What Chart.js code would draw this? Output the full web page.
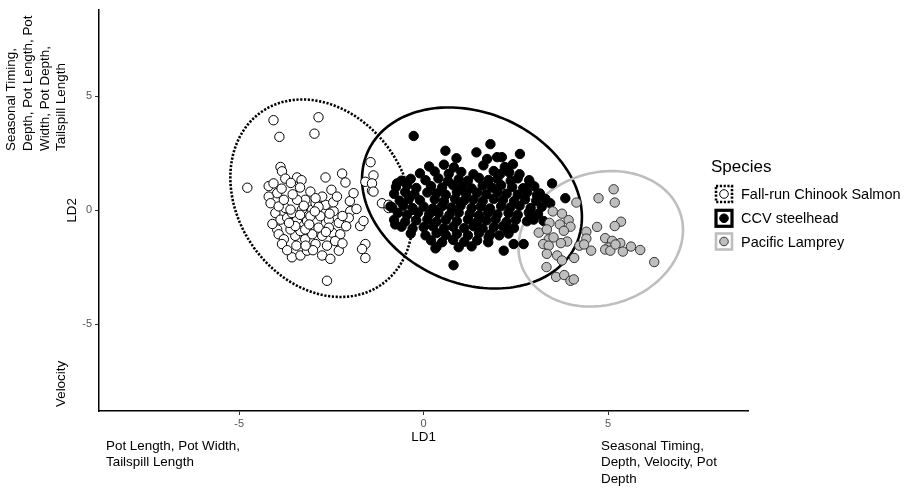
<!DOCTYPE html>
<html><head><meta charset="utf-8">
<script src="https://cdn.jsdelivr.net/npm/chart.js@4.4.0/dist/chart.umd.min.js"></script>
<style>html,body{margin:0;padding:0;background:#fff;}#wrap{width:920px;height:492px;}</style>
</head><body><div id="wrap"><canvas id="c" width="920" height="492"></canvas></div>
<script>
const speciesNames = ['Fall-run Chinook Salmon', 'CCV steelhead', 'Pacific Lamprey'];
const xTickValues = [-5, 0, 5];
const yTickValues = [-5, 0, 5];

const chinook = [
[-4.07,3.95],[-2.85,4.08],[-3.91,3.22],[-2.96,3.36],[-4.78,0.99],[-2.62,-3.09],[-2.66,1.44],[-3.88,1.90],
[-3.84,1.71],[-3.75,1.39],[-3.43,1.44],[-3.31,1.32],[-2.21,1.61],[-2.12,1.22],[-1.44,2.11],[-1.36,1.53],
[-1.58,1.25],[-1.40,0.86],[-1.13,0.31],[-0.95,0.10],[-1.99,-0.04],[-1.82,0.06],[-2.03,-0.33],[-1.72,-0.69],
[-1.63,-0.47],[-1.58,-1.48],[-1.67,-1.70],[-1.58,-2.09],[-4.20,1.06],[-4.07,1.18],[-3.97,0.75],[-4.20,0.60],
[-4.15,0.31],[-4.02,-0.12],[-3.88,-0.41],[-3.97,-0.84],[-3.93,-1.05],[-3.79,-1.27],[-3.84,-1.48],[-3.57,-2.06],
[-3.34,-1.98],[-3.16,-1.77],[-2.75,-1.98],[-2.53,-2.13],[-2.30,-1.77],[-2.62,-1.55],[-2.93,-1.48],[-3.21,-1.27],
[-3.48,-1.12],[-3.61,-0.84],[-3.34,-0.91],[-3.02,-1.05],[-2.75,-1.12],[-2.48,-0.98],[-2.26,-1.05],[-2.30,-0.55],
[-2.57,-0.41],[-2.89,-0.47],[-3.16,-0.47],[-3.43,-0.41],[-3.70,-0.33],[-3.75,0.10],[-3.57,-0.12],[-3.30,0.03],
[-3.02,0.03],[-2.71,-0.04],[-2.44,-0.04],[-2.66,0.24],[-2.93,0.31],[-3.21,0.46],[-3.43,0.46],[-3.07,0.82],
[-2.75,0.60],[-2.93,0.53],[-3.93,0.17],[-3.79,0.46],[-3.61,0.03],[-3.48,-0.69],[-3.21,-0.84],[-2.85,-0.76],
[-2.57,-0.76],[-3.07,-0.26],[-2.80,-0.26],[-1.40,1.18],[-1.36,0.82],[-0.95,0.24],[-3.55,0.70],[-3.25,0.20],
[-2.45,0.35],[-2.20,-0.25],[-2.00,0.40],[-3.65,-0.55],[-3.10,-0.62],[-2.65,-0.95],[-2.40,-1.35],[-3.00,-1.75],
[-3.45,-1.55],[-4.10,-0.60],[-3.85,0.95],[-3.35,1.00],[-2.50,0.90],[-1.90,0.75],[-2.10,-0.70],[-2.85,0.15],
[-3.35,-0.20],[-2.55,-0.15],[-3.60,1.20],[-2.35,0.60],[-2.20,-1.45],[-3.70,-1.75],[-2.95,-0.05],[-3.20,-1.55]
];

const steelhead = [
[-0.27,3.26],[0.59,2.61],[0.89,2.28],[1.43,2.54],[1.81,2.90],[2.61,2.47],[1.99,2.33],[2.12,2.33],[1.72,2.25],
[3.48,1.18],[3.84,0.53],[2.98,-0.41],[3.25,-0.47],[2.17,-1.77],[2.44,-1.48],[2.71,-1.48],[0.81,-2.41],[0.32,-1.67],
[-0.77,-0.62],[-0.72,1.18],[-0.90,0.17],[1.76,-1.19],[2.26,-0.84],[2.89,1.18],[3.07,0.67],[3.43,0.31],
[0.15,1.92],[0.55,2.00],[0.82,1.88],[1.62,1.97],[2.20,1.90],[2.42,2.02],
[-0.10,1.62],[0.30,1.70],[0.68,1.60],[1.02,1.68],[1.35,1.58],[1.90,1.72],[2.08,1.60],[2.32,1.66],[2.60,1.58],
[-0.60,1.30],[-0.35,1.38],[0.05,1.32],[0.40,1.40],[0.66,1.28],[0.95,1.36],[1.20,1.30],[1.50,1.42],[1.76,1.33],
[2.00,1.38],[2.36,1.29],[2.55,1.40],[2.86,1.32],
[-0.75,1.02],[-0.45,1.10],[-0.20,0.98],[0.20,1.06],[0.50,1.00],[0.80,1.10],[1.05,1.03],[1.30,0.96],[1.60,1.08],
[1.85,1.00],[2.10,1.10],[2.40,1.02],[2.70,0.97],[3.00,1.05],
[-0.80,0.72],[-0.50,0.80],[-0.25,0.70],[0.10,0.78],[0.35,0.74],[0.60,0.68],[0.90,0.80],[1.15,0.72],[1.45,0.77],
[1.70,0.70],[2.00,0.80],[2.25,0.73],[2.55,0.68],[2.80,0.78],[3.15,0.74],
[-0.65,0.42],[-0.40,0.50],[-0.10,0.44],[0.30,0.48],[0.55,0.40],[0.85,0.50],[1.10,0.43],[1.35,0.47],[1.60,0.40],
[1.90,0.50],[2.15,0.45],[2.45,0.40],[2.75,0.48],[3.05,0.42],[3.30,0.50],
[-0.85,0.12],[-0.55,0.20],[-0.30,0.10],[0.00,0.16],[0.25,0.08],[0.50,0.18],[0.75,0.12],[1.00,0.20],[1.30,0.10],
[1.55,0.16],[1.80,0.08],[2.10,0.18],[2.35,0.12],[2.60,0.20],[2.90,0.10],[3.20,0.15],
[-0.70,-0.12],[-0.45,-0.20],[-0.15,-0.10],[0.15,-0.18],[0.40,-0.12],[0.70,-0.20],[0.95,-0.10],[1.25,-0.16],
[1.50,-0.22],[1.75,-0.10],[2.00,-0.18],[2.30,-0.12],[2.55,-0.20],[2.85,-0.10],[3.10,-0.16],
[-0.80,-0.42],[-0.50,-0.50],[-0.20,-0.44],[0.10,-0.40],[0.35,-0.50],[0.60,-0.42],[0.90,-0.48],[1.20,-0.40],
[1.45,-0.50],[1.70,-0.44],[1.95,-0.40],[2.25,-0.50],[2.50,-0.42],[2.80,-0.48],
[-0.60,-0.72],[-0.30,-0.80],[0.00,-0.74],[0.25,-0.70],[0.55,-0.80],[0.80,-0.72],[1.10,-0.78],[1.35,-0.70],
[1.60,-0.80],[1.90,-0.74],[2.15,-0.70],[2.45,-0.78],
[-0.35,-1.02],[0.05,-1.10],[0.35,-1.00],[0.60,-1.08],[0.90,-1.04],[1.20,-1.10],[1.50,-1.00],[1.80,-1.06],
[2.05,-1.10],[2.30,-1.02],
[0.20,-1.32],[0.50,-1.40],[0.80,-1.30],[1.10,-1.38],[1.45,-1.32],[1.75,-1.40],
[0.35,-1.60],[0.95,-1.62],[1.30,-1.58]
];

const lamprey = [
[5.15,0.92],[4.74,0.53],[5.18,0.34],[4.14,0.34],[3.75,-0.15],[5.35,-0.50],[5.18,-0.69],[4.70,-0.73],
[3.69,-0.62],[3.93,-0.43],[3.98,-0.72],[3.41,-0.55],[3.12,-0.98],[3.34,-0.84],[4.41,-0.94],[4.41,-1.24],
[4.92,-1.22],[5.11,-1.34],[5.33,-1.44],[5.62,-1.59],[5.87,-1.74],[6.25,-2.27],[5.40,-1.81],[5.01,-1.63],
[4.92,-1.72],[4.54,-1.77],[4.22,-1.55],[3.89,-1.37],[3.72,-1.44],[3.39,-1.27],[3.24,-1.48],[3.39,-1.55],
[3.34,-1.91],[3.62,-1.98],[3.75,-2.20],[4.08,-2.09],[3.33,-2.49],[3.59,-2.92],[3.81,-2.84],[3.98,-3.09],
[4.07,-3.03],[3.52,-1.19],[5.06,-1.77],[3.50,-0.05],[3.80,-0.90],[4.35,-1.50],[5.20,-1.50]
];

// stat_ellipse summaries per species (data units): centre, spread and correlation
const ellipseCenterX = [-2.77, 1.31, 4.80];
const ellipseCenterY = [0.53, 0.54, -1.25];
const ellipseSpreadX = [2.47, 2.98, 2.23];
const ellipseSpreadY = [4.33, 3.97, 2.97];
const ellipseCorr = [-0.21, -0.21, 0.13];

const FONT = '"Liberation Sans", Arial, Helvetica, sans-serif';
const GREY = '#bebebe';

const ellipseStyles = [
  {color: '#000', width: 2.6, dash: [2.2, 1.6]},
  {color: '#000', width: 2.6, dash: []},
  {color: GREY, width: 2.6, dash: []}
];

const ellipsePlugin = {
  id: 'ellipses',
  beforeDatasetsDraw(chart) {
    const {ctx, scales: {x, y}} = chart;
    for (let i = 0; i < ellipseCenterX.length; i++) {
      const a = ellipseSpreadX[i];
      const b = ellipseCorr[i] * ellipseSpreadY[i];
      const d = ellipseSpreadY[i] * Math.sqrt(1 - ellipseCorr[i] * ellipseCorr[i]);
      const st = ellipseStyles[i];
      ctx.save();
      ctx.beginPath();
      for (let k = 0; k <= 180; k++) {
        const t = k / 180 * Math.PI * 2;
        const vx = ellipseCenterX[i] + a * Math.cos(t);
        const vy = ellipseCenterY[i] + b * Math.cos(t) + d * Math.sin(t);
        const px = x.getPixelForValue(vx), py = y.getPixelForValue(vy);
        if (k === 0) ctx.moveTo(px, py); else ctx.lineTo(px, py);
      }
      ctx.closePath();
      ctx.strokeStyle = st.color;
      ctx.lineWidth = st.width;
      ctx.setLineDash(st.dash);
      ctx.stroke();
      ctx.restore();
    }
  }
};

const annotationPlugin = {
  id: 'annotations',
  afterDraw(chart) {
    const ctx = chart.ctx;
    ctx.save();
    ctx.fillStyle = '#000';
    ctx.font = '13.4px ' + FONT;
    const yLines = ['Seasonal Timing,', 'Depth, Pot Length, Pot', 'Width, Pot Depth,', 'Tailspill Length'];
    const yCols = [11.7, 28.4, 45.1, 61.8];
    yLines.forEach((s, i) => {
      ctx.save();
      ctx.translate(yCols[i], 151);
      ctx.rotate(-Math.PI / 2);
      ctx.textAlign = 'left'; ctx.textBaseline = 'middle';
      ctx.fillText(s, 0, 0);
      ctx.restore();
    });
    ctx.save();
    ctx.translate(61, 407);
    ctx.rotate(-Math.PI / 2);
    ctx.textAlign = 'left'; ctx.textBaseline = 'middle';
    ctx.fillText('Velocity', 0, 0);
    ctx.restore();
    ctx.textAlign = 'left'; ctx.textBaseline = 'middle';
    ['Pot Length, Pot Width,', 'Tailspill Length'].forEach((s, i) => ctx.fillText(s, 106, 446 + i * 16.7));
    ['Seasonal Timing,', 'Depth, Velocity, Pot', 'Depth'].forEach((s, i) => ctx.fillText(s, 601, 446 + i * 16.7));

    ctx.font = '17px ' + FONT;
    ctx.fillText('Species', 711, 167);
    const keyY = [194, 218.3, 241.5];
    const keyX = 724;
    const keyFill = ['#fff', '#000', GREY];
    const keyPtBorder = ['#000', '#000', '#333'];
    for (let i = 0; i < 3; i++) {
      const st = ellipseStyles[i];
      ctx.save();
      ctx.strokeStyle = st.color;
      ctx.lineWidth = i === 1 ? 3.2 : 2.6;
      ctx.setLineDash(i === 0 ? [2.2, 1.6] : []);
      ctx.strokeRect(keyX - 8, keyY[i] - 8, 16, 16);
      ctx.restore();
      ctx.beginPath();
      ctx.arc(keyX, keyY[i], 4.3, 0, Math.PI * 2);
      ctx.fillStyle = keyFill[i];
      ctx.fill();
      ctx.lineWidth = 1;
      ctx.strokeStyle = keyPtBorder[i];
      ctx.stroke();
      ctx.fillStyle = '#000';
      ctx.font = '14.5px ' + FONT;
      ctx.fillText(speciesNames[i], 741, keyY[i] + 1);
    }
    ctx.restore();
  }
};

const toPts = arr => arr.map(p => ({x: p[0], y: p[1]}));

new Chart(document.getElementById('c'), {
  type: 'scatter',
  data: {
    datasets: [
      {label: speciesNames[0], data: toPts(chinook), backgroundColor: '#fff', borderColor: '#000', borderWidth: 1, pointRadius: 4.7, order: 3},
      {label: speciesNames[1], data: toPts(steelhead), backgroundColor: '#000', borderColor: '#000', borderWidth: 1, pointRadius: 4.7, order: 2},
      {label: speciesNames[2], data: toPts(lamprey), backgroundColor: GREY, borderColor: '#333', borderWidth: 1, pointRadius: 4.7, order: 1}
    ]
  },
  options: {
    responsive: false,
    animation: false,
    layout: {padding: {left: 0, top: 3, right: 171.7, bottom: 0}},
    plugins: {legend: {display: false}, tooltip: {enabled: false}},
    scales: {
      x: {
        type: 'linear', min: -8.8, max: 8.8,
        afterBuildTicks: s => { s.ticks = xTickValues.map(v => ({value: v})); },
        afterFit: s => { s.height = 81; },
        grid: {drawOnChartArea: false, drawTicks: true, tickLength: 4, tickColor: '#333', tickWidth: 1},
        border: {display: true, color: '#000', width: 1.5},
        ticks: {color: '#555', font: {family: FONT, size: 11}, padding: 2, maxRotation: 0, callback: v => String(v)},
        title: {display: true, text: 'LD1', color: '#000', font: {family: FONT, size: 13.4}, padding: {top: 0, bottom: 46.5}}
      },
      y: {
        type: 'linear', min: -8.8, max: 8.8,
        afterBuildTicks: s => { s.ticks = yTickValues.map(v => ({value: v})); },
        afterFit: s => { s.width = 99; },
        grid: {drawOnChartArea: false, drawTicks: true, tickLength: 4, tickColor: '#333', tickWidth: 1},
        border: {display: true, color: '#000', width: 1.5},
        ticks: {color: '#555', font: {family: FONT, size: 11}, padding: 3, callback: v => String(v)},
        title: {display: true, text: 'LD2', color: '#000', font: {family: FONT, size: 13.4}, padding: {top: 64, bottom: 0}}
      }
    }
  },
  plugins: [ellipsePlugin, annotationPlugin]
});
</script>
</body></html>
